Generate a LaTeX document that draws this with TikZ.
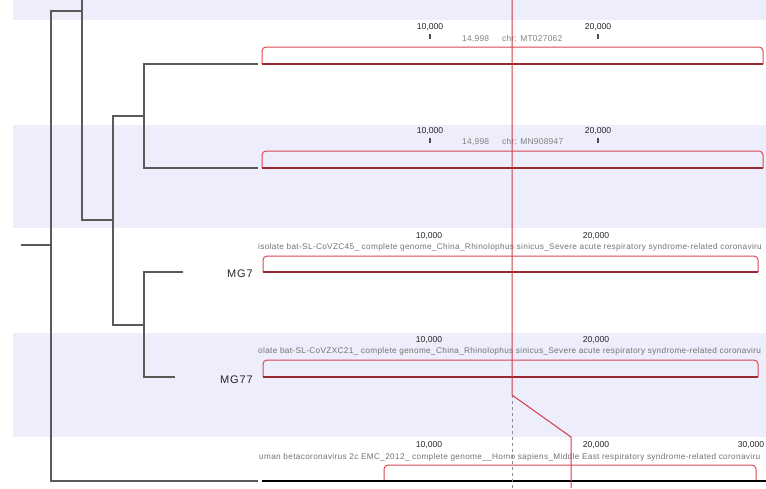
\documentclass[tikz,border=0pt]{standalone}
\usepackage{fontspec}
\setmainfont{Liberation Sans}
\usetikzlibrary{positioning}
\definecolor{bandBlue}{HTML}{EDEDFB}
\definecolor{treeGray}{HTML}{5A5A5A}
\definecolor{trackRed}{HTML}{DA4752}
\definecolor{trackDark}{HTML}{9C2830}
\definecolor{cursorRed}{HTML}{CF3C46}

\begin{document}
\begin{tikzpicture}[
    x=1pt, y=-1pt,
    branch/.style={draw=treeGray,line width=1.1pt},
    track/.style={draw=trackRed,line width=1pt,rounded corners=4pt},
    trackbase/.style={draw=trackDark,line width=1.6pt},
    ticklab/.style={font=\fontsize{8.6}{9}\selectfont,text=black!85,inner sep=0pt},
    tickmark/.style={draw=black!70,line width=1.1pt},
    poslab/.style={font=\fontsize{8.4}{9}\selectfont\addfontfeature{LetterSpace=3},text=black!50,inner sep=0pt,anchor=west},
    desc/.style={font=\fontsize{8.25}{9}\selectfont\addfontfeature{LetterSpace=4},text=black!55,inner sep=0pt,anchor=west},
    tiplab/.style={font=\fontsize{11}{12}\selectfont\addfontfeature{LetterSpace=8},text=black!85,inner sep=0pt,anchor=west}
]
    \useasboundingbox (0,0) rectangle (766,488);

    % alternating rows
    \fill[bandBlue] (13,0) rectangle (766,20);
    \fill[bandBlue] (13,125) rectangle (766,228);
    \fill[bandBlue] (13,333) rectangle (766,437);

    % tree
    \coordinate (root) at (21,245);
    \coordinate (r) at (51,245);
    \coordinate (rup) at (82,11);
    \coordinate (atop) at (82,0);
    \coordinate (a) at (82,220);
    \coordinate (b) at (113,220);
    \coordinate (c1) at (144,116);
    \coordinate (c2) at (144,325);
    \coordinate (t1) at (258,64);
    \coordinate (t2) at (258,168);
    \coordinate (t3) at (183,272);
    \coordinate (t4) at (175,377);
    \coordinate (t5) at (258,481);

    \draw[branch] (root) -- (r);
    \draw[branch] (rup) -| (r) |- (t5);
    \draw[branch] (atop) -- (a) -- (b);
    \draw[branch] (c1) -| (b) |- (c2);
    \draw[branch] (t1) -| (c1) |- (t2);
    \draw[branch] (t3) -| (c2) |- (t4);

    % tip names (as far as the track panel lets them show)
    \node[tiplab] (n3) at (227,274) {MG7};
    \node[tiplab] (n4) at (220,380) {MG77};

    % genome tracks
    \node[ticklab] (k1a) at (430,27) {10,000};
    \node[ticklab] (k1b) at (598,27) {20,000};
    \node[poslab] (p1) at (462,39) {14,998\hspace{13pt}chr: MT027062};
    \draw[tickmark] (430,34) -- (430,39) (598,34) -- (598,39);
    \draw[track] (262,64) -- (262,47) -- (763,47) -- (763,64);
    \draw[trackbase] (262,64) -- (763,64);

    \node[ticklab] (k2a) at (430,131) {10,000};
    \node[ticklab] (k2b) at (598,131) {20,000};
    \node[poslab] (p2) at (462,142) {14,998\hspace{13pt}chr: MN908947};
    \draw[tickmark] (430,138) -- (430,143) (598,138) -- (598,143);
    \draw[track] (262,168) -- (262,151) -- (763,151) -- (763,168);
    \draw[trackbase] (262,168) -- (763,168);

    \node[ticklab] (k3a) at (429,236) {10,000};
    \node[ticklab] (k3b) at (596,236) {20,000};
    \node[desc] (d3) at (258,247) {isolate bat-SL-CoVZC45\_ complete genome\_China\_Rhinolophus sinicus\_Severe acute respiratory syndrome-related coronaviru};
    \draw[track] (263,272) -- (263,256) -- (758,256) -- (758,272);
    \draw[trackbase] (263,272) -- (758,272);

    \node[ticklab] (k4a) at (429,340) {10,000};
    \node[ticklab] (k4b) at (596,340) {20,000};
    \node[desc] (d4) at (258,351) {olate bat-SL-CoVZXC21\_ complete genome\_China\_Rhinolophus sinicus\_Severe acute respiratory syndrome-related coronaviru};
    \draw[track] (263,377) -- (263,360) -- (758,360) -- (758,377);
    \draw[trackbase] (263,377) -- (758,377);

    \node[ticklab] (k5a) at (429,445) {10,000};
    \node[ticklab] (k5b) at (596,445) {20,000};
    \node[ticklab] (k5c) at (751,445) {30,000};
    \node[desc] (d5) at (259,457) {uman betacoronavirus 2c EMC\_2012\_ complete genome\_\_Homo sapiens\_Middle East respiratory syndrome-related coronaviru};
    \draw[track] (384,481) -- (384,465) -- (756,465) -- (756,481);
    \draw[line width=2pt] (262,481) -- (766,481);

    % cursor
    \coordinate (cu) at (512,0);
    \coordinate (cb) at (512,395);
    \coordinate (cs) at (571,437);
    \coordinate (ce) at (571,488);
    \coordinate (cd) at (512,488);
    \draw[black!45,dashed,line width=1pt] (cb) -- (cd);
    \draw[cursorRed,line width=1pt] (cu) -- (cb) -- (cs) -- (ce);
\end{tikzpicture}
\end{document}
